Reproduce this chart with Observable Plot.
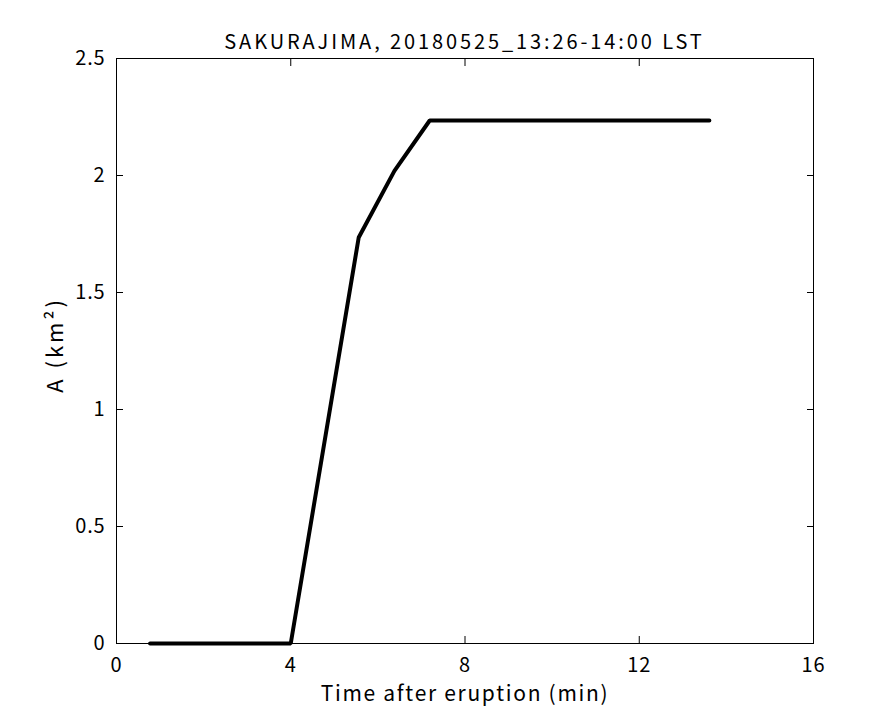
<!DOCTYPE html>
<html>
<head>
<meta charset="utf-8">
<script src="https://cdn.jsdelivr.net/npm/d3@7"></script>
<script src="https://cdn.jsdelivr.net/npm/@observablehq/plot@0.6"></script>
<style>
  body { margin: 0; background: #fff; }
  #wrap { position: relative; width: 875px; height: 723px; }
  #title { position: absolute; top: 28px; left: 116px; width: 697px; text-align: center;
    font-family: "Noto Sans CJK JP", "DejaVu Sans", sans-serif; font-size: 20px; line-height: 26px;
    letter-spacing: 2.9px; color: #000; white-space: nowrap; }
</style>
</head>
<body>
<div id="wrap">
  <div id="chart"></div>
  <div id="title"></div>
</div>
<script>
const timeMin = [0.77, 4.0, 5.56, 6.38, 7.19, 13.61];
const areaKm2 = [0.0, 0.0, 1.735, 2.02, 2.235, 2.235];
const xTicks = [0, 4, 8, 12, 16];
const yTicks = [0, 0.5, 1, 1.5, 2, 2.5];
const titleText = "SAKURAJIMA, 20180525_13:26-14:00 LST";
const xLabel = "Time after eruption (min)";
const yLabel = "A (km²)";

const data = timeMin.map((t, i) => ({t, a: areaKm2[i]}));
document.getElementById("title").textContent = titleText;

const chart = Plot.plot({
  width: 875,
  height: 723,
  marginLeft: 116,
  marginRight: 62,
  marginTop: 58,
  marginBottom: 80,
  style: {fontFamily: '"Noto Sans CJK JP", "DejaVu Sans", sans-serif', fontSize: "20px", color: "#000", background: "#fff"},
  x: {domain: [0, 16]},
  y: {domain: [0, 2.5]},
  marks: [
    Plot.frame({stroke: "#000", strokeWidth: 1}),
    Plot.axisX(xTicks, {anchor: "bottom", tickSize: 0, tickPadding: 14, label: null, fontSize: 20, tickFormat: d => String(d)}),
    Plot.axisX(xTicks, {anchor: "bottom", tickSize: -7, text: null, label: null}),
    Plot.axisX(xTicks, {anchor: "top", tickSize: -7, text: null, label: null}),
    Plot.axisY(yTicks, {anchor: "left", tickSize: 0, tickPadding: 11, label: null, fontSize: 20, tickFormat: d => String(d)}),
    Plot.axisY(yTicks, {anchor: "left", tickSize: -7, text: null, label: null}),
    Plot.axisY(yTicks, {anchor: "right", tickSize: -7, text: null, label: null}),
    Plot.text([xLabel], {frameAnchor: "bottom", lineAnchor: "middle", dy: 51, fontSize: 21, fill: "#000"}),
    Plot.text([yLabel], {frameAnchor: "left", textAnchor: "middle", dx: -61, dy: -6, rotate: -90, fontSize: 22, fill: "#000"}),
    Plot.line(data, {x: "t", y: "a", stroke: "#000", strokeWidth: 4, strokeLinejoin: "miter"})
  ]
});
d3.select(chart).selectAll("text").each(function() {
  const t = this.textContent;
  if (t === xLabel) this.style.letterSpacing = "1.7px";
  else if (t === yLabel) this.style.letterSpacing = "3px";
  else this.style.letterSpacing = "0.8px";
});
document.getElementById("chart").appendChild(chart);
</script>
</body>
</html>
